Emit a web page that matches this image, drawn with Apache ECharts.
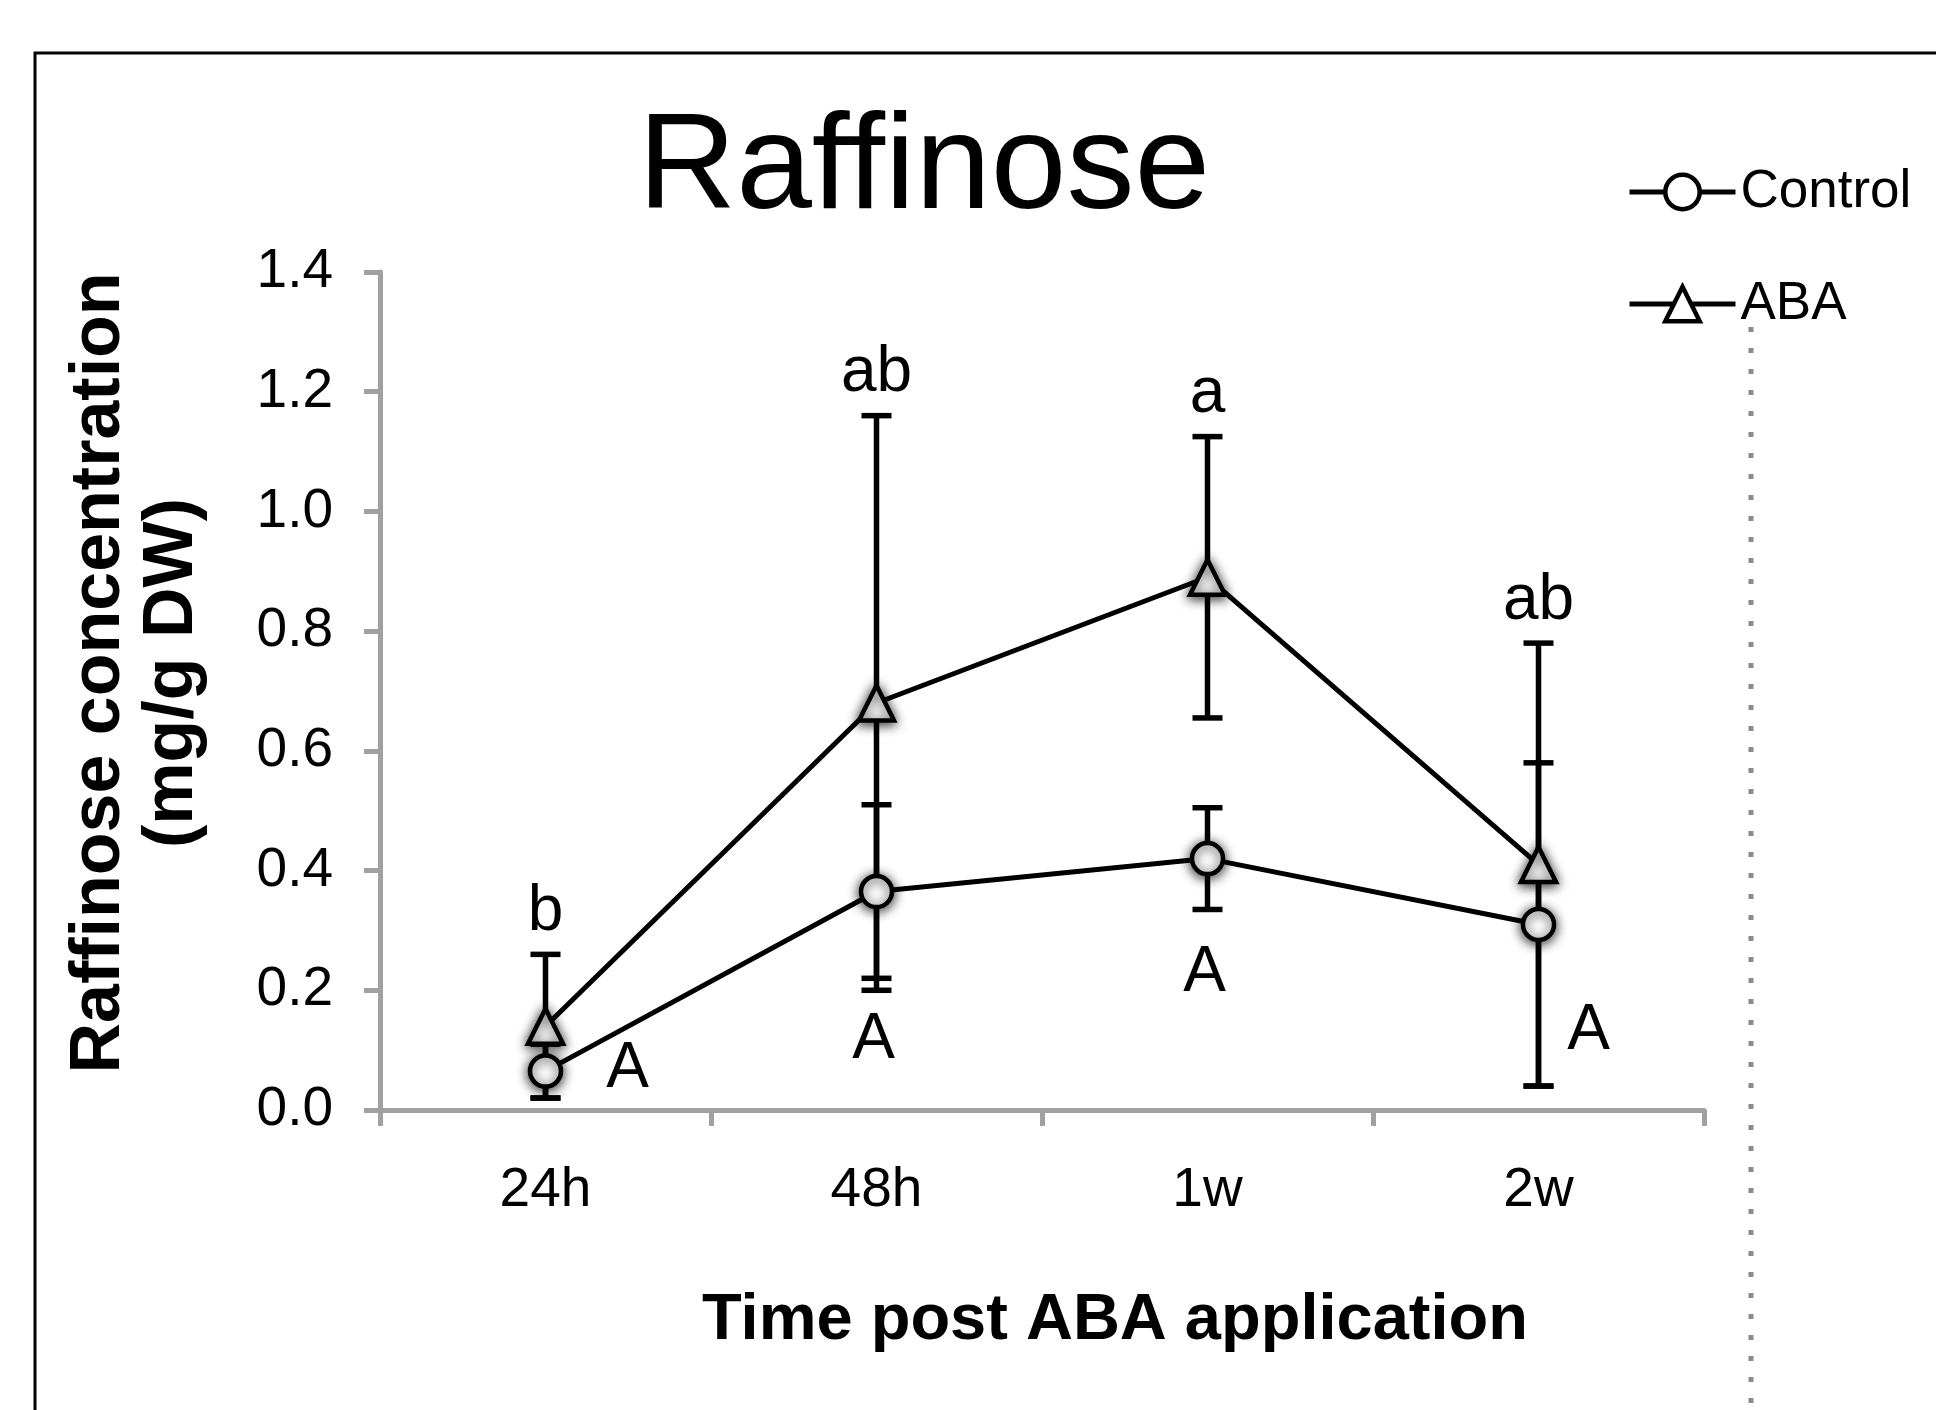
<!DOCTYPE html>
<html>
<head>
<meta charset="utf-8">
<title>Raffinose</title>
<script src="https://cdn.jsdelivr.net/npm/echarts@6/dist/echarts.min.js"></script>
<style>
  html, body { margin: 0; padding: 0; background: #fff; }
  #chart { width: 1936px; height: 1410px; }
</style>
</head>
<body>
<div id="chart"></div>
<script>
// values (mg/g DW)
const categories = ['24h', '48h', '1w', '2w']
const controlMean = [0.065, 0.365, 0.42, 0.31]
const controlErr = [0.045, 0.145, 0.085, 0.27]
const abaMean = [0.14, 0.68, 0.89, 0.41]
const abaErr = [0.12, 0.48, 0.235, 0.37]
// significance letters
const abaLetters = ['b', 'ab', 'a', 'ab']
const controlLetters = ['A', 'A', 'A', 'A']
const controlLetterY = [0.068, 0.117, 0.228, 0.132]

const FONT = "'Liberation Sans', Arial, Helvetica, sans-serif"
const AXIS_GREY = '#a0a0a0'
// horizontal nudges (px) for the control letters
const controlLetterShift = [82, -3, -3, 50]

const chart = echarts.init(document.getElementById('chart'))

const errData = []
categories.forEach((c, i) => {
  errData.push([i, controlMean[i] - controlErr[i], controlMean[i] + controlErr[i]])
  errData.push([i, abaMean[i] - abaErr[i], abaMean[i] + abaErr[i]])
})

function renderErrorBar(params, api) {
  const x = api.value(0)
  const lo = api.coord([x, api.value(1)])
  const hi = api.coord([x, api.value(2)])
  const half = 15
  const style = { stroke: '#000', lineWidth: 5.5 }
  return {
    type: 'group',
    children: [
      { type: 'line', shape: { x1: lo[0], y1: lo[1], x2: hi[0], y2: hi[1] }, style },
      { type: 'line', shape: { x1: lo[0] - half, y1: lo[1], x2: lo[0] + half, y2: lo[1] }, style },
      { type: 'line', shape: { x1: hi[0] - half, y1: hi[1], x2: hi[0] + half, y2: hi[1] }, style }
    ]
  }
}

function renderAbaLetter(params, api) {
  const pt = api.coord([api.value(0), api.value(1)])
  return {
    type: 'text',
    x: pt[0],
    y: pt[1] - 10,
    style: {
      text: abaLetters[params.dataIndex],
      fill: '#000',
      fontSize: 64,
      fontFamily: FONT,
      align: 'center',
      verticalAlign: 'bottom'
    }
  }
}

function renderControlLetter(params, api) {
  const pt = api.coord([api.value(0), api.value(1)])
  return {
    type: 'text',
    x: pt[0] + controlLetterShift[params.dataIndex],
    y: pt[1],
    style: {
      text: controlLetters[params.dataIndex],
      fill: '#000',
      fontSize: 64,
      fontFamily: FONT,
      align: 'center',
      verticalAlign: 'middle'
    }
  }
}

const markerStyle = {
  color: '#fff',
  borderColor: '#000',
  borderWidth: 4.5,
  shadowBlur: 12,
  shadowColor: 'rgba(0,0,0,0.8)',
  shadowOffsetY: 2
}

const option = {
  animation: false,
  backgroundColor: '#fff',
  textStyle: { fontFamily: FONT },
  title: {
    text: 'Raffinose',
    left: 638,
    top: 102,
    padding: 0,
    textStyle: { fontSize: 136, lineHeight: 136, fontWeight: 'normal', color: '#000', fontFamily: FONT }
  },
  legend: {
    orient: 'vertical',
    left: 1627,
    top: 164,
    padding: 0,
    itemWidth: 106,
    itemHeight: 43,
    itemGap: 56,
    data: ['Control', 'ABA'],
    lineStyle: { color: '#000', width: 5 },
    itemStyle: { color: '#fff', borderColor: '#000', borderWidth: 4.5, shadowBlur: 0, shadowColor: 'transparent' },
    textStyle: { fontSize: 53, lineHeight: 56, color: '#000', fontFamily: FONT }
  },
  grid: { left: 380, right: 232, top: 272, bottom: 300, containLabel: false, outerBoundsMode: 'none' },
  xAxis: {
    type: 'category',
    data: categories,
    boundaryGap: true,
    name: 'Time post ABA application',
    nameLocation: 'middle',
    nameGap: 176,
    nameTextStyle: { fontSize: 65, fontWeight: 'bold', color: '#000', lineHeight: 70, padding: [0, 0, 0, 146] },
    axisLine: { lineStyle: { color: AXIS_GREY, width: 5 } },
    axisTick: { show: true, length: 16, lineStyle: { color: AXIS_GREY, width: 5 } },
    axisLabel: { fontSize: 55, lineHeight: 55, margin: 53, color: '#000' },
    splitLine: { show: false }
  },
  yAxis: {
    type: 'value',
    min: 0,
    max: 1.4,
    interval: 0.2,
    name: 'Raffinose concentration\n(mg/g DW)',
    nameLocation: 'middle',
    nameGap: 171,
    nameTextStyle: { fontSize: 70, fontWeight: 'bold', color: '#000', lineHeight: 73, padding: [0, 0, 0, 36] },
    axisLine: { show: true, lineStyle: { color: AXIS_GREY, width: 5 } },
    axisTick: { show: true, length: 16, lineStyle: { color: AXIS_GREY, width: 5 } },
    axisLabel: { fontSize: 55, margin: 47, color: '#000', formatter: v => v.toFixed(1) },
    splitLine: { show: false }
  },
  series: [
    {
      name: 'errors',
      type: 'custom',
      renderItem: renderErrorBar,
      data: errData,
      encode: { x: 0, y: [1, 2] },
      z: 1,
      silent: true
    },
    {
      name: 'Control',
      type: 'line',
      data: controlMean,
      symbol: 'circle',
      symbolSize: 31,
      itemStyle: markerStyle,
      lineStyle: { color: '#000', width: 5 },
      z: 3,
      emphasis: { disabled: true }
    },
    {
      name: 'ABA',
      type: 'line',
      data: abaMean,
      symbol: 'triangle',
      symbolSize: 35,
      itemStyle: markerStyle,
      lineStyle: { color: '#000', width: 5 },
      z: 3,
      emphasis: { disabled: true }
    },
    {
      name: 'abaLetters',
      type: 'custom',
      renderItem: renderAbaLetter,
      data: abaMean.map((m, i) => [i, m + abaErr[i]]),
      encode: { x: 0, y: 1 },
      z: 4,
      silent: true
    },
    {
      name: 'controlLetters',
      type: 'custom',
      renderItem: renderControlLetter,
      data: controlLetterY.map((v, i) => [i, v]),
      encode: { x: 0, y: 1 },
      z: 4,
      silent: true
    }
  ],
  graphic: [
    {
      type: 'rect',
      shape: { x: 35, y: 53, width: 3000, height: 3000 },
      style: { fill: 'none', stroke: '#000', lineWidth: 3 },
      silent: true
    },
    {
      type: 'line',
      shape: { x1: 1751, y1: 327, x2: 1751, y2: 1410 },
      style: { stroke: '#8a8a8a', lineWidth: 5, lineDash: [5, 16] },
      silent: true
    }
  ]
}

chart.setOption(option)
</script>
</body>
</html>
